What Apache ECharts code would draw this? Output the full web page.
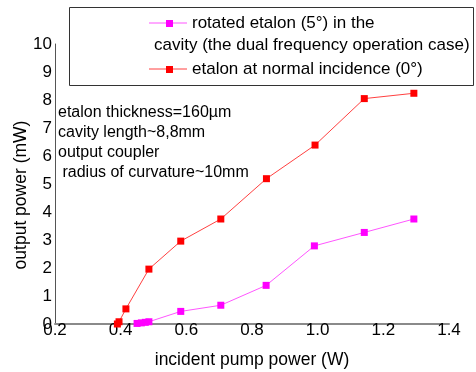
<!DOCTYPE html>
<html><head><meta charset="utf-8">
<script src="https://cdn.jsdelivr.net/npm/echarts@6/dist/echarts.min.js"></script>
<style>html,body{margin:0;padding:0;background:#fff}#c{width:476px;height:372px}</style>
</head><body><div id="c"></div>
<script>
const xTicks = [0.2, 0.4, 0.6, 0.8, 1.0, 1.2, 1.4];
const yTicks = [0,1,2,3,4,5,6,7,8,9,10];
const redX = [0.39, 0.395, 0.416, 0.486, 0.583, 0.705, 0.844, 0.992, 1.142, 1.293];
const redY = [0.0, 0.08, 0.54, 1.96, 2.96, 3.75, 5.19, 6.39, 8.05, 8.24];
const magX = [0.45, 0.463, 0.475, 0.486, 0.583, 0.705, 0.843, 0.99, 1.142, 1.293];
const magY = [0.02, 0.04, 0.06, 0.08, 0.45, 0.67, 1.38, 2.79, 3.27, 3.75];
const legendNames = ['rotated etalon (5°) in the', 'cavity (the dual frequency operation case)', 'etalon at normal incidence (0°)'];
const notes = ['etalon thickness=160µm', 'cavity length~8,8mm', 'output coupler', ' radius of curvature~10mm'];
const xName = 'incident pump power (W)';
const yName = 'output power (mW)';

const F = 'Liberation Sans, Arial, sans-serif';
const chart = echarts.init(document.getElementById('c'), null, {renderer:'canvas'});
const zip = (a,b)=>a.map((v,i)=>[v,b[i]]);
chart.setOption({
  animation:false,
  grid:{left:55, right:27, top:44, bottom:48, containLabel:false, outerBoundsMode:'none'},
  xAxis:{type:'value', min:xTicks[0], max:xTicks[xTicks.length-1], interval:0.2,
    name:xName, nameLocation:'middle', nameGap:27,
    nameTextStyle:{fontFamily:F, fontSize:17.5, color:'#000'},
    axisLine:{lineStyle:{color:'#8a8a8a', width:2}}, axisTick:{show:false}, splitLine:{show:false},
    axisLabel:{fontFamily:F, fontSize:17, color:'#000', margin:-2, formatter:v=>v.toFixed(1)}},
  yAxis:{type:'value', min:yTicks[0], max:yTicks[yTicks.length-1], interval:1,
    axisLine:{show:true, lineStyle:{color:'#555', width:1}}, axisTick:{show:false}, splitLine:{show:false},
    axisLabel:{fontFamily:F, fontSize:17, color:'#000', margin:3}},
  series:[
    {type:'line', data:zip(magX,magY), symbol:'rect', symbolSize:7, itemStyle:{color:'#ff00ff'},
      lineStyle:{color:'#ff55ff', width:1}},
    {type:'line', data:zip(redX,redY), symbol:'rect', symbolSize:7, itemStyle:{color:'#ff0000'},
      lineStyle:{color:'#ff4040', width:1}}
  ],
  graphic:[
    {type:'text', x:21, y:195, rotation:Math.PI/2, style:{text:yName, font:'17.5px '+F, fill:'#000', align:'center', verticalAlign:'middle'}},
    {type:'rect', shape:{x:69.5, y:7.5, width:404, height:78}, style:{fill:'#fff', stroke:'#333', lineWidth:1}},
    {type:'line', shape:{x1:149, y1:23, x2:187, y2:23}, style:{stroke:'#ff55ff', lineWidth:1}},
    {type:'rect', shape:{x:166, y:20, width:7, height:7}, style:{fill:'#ff00ff'}},
    {type:'line', shape:{x1:149, y1:69, x2:187, y2:69}, style:{stroke:'#ff4040', lineWidth:1}},
    {type:'rect', shape:{x:166, y:66, width:7, height:7}, style:{fill:'#ff0000'}},
    {type:'text', x:192, y:23, style:{text:legendNames[0], font:'17px '+F, fill:'#000', verticalAlign:'middle'}},
    {type:'text', x:154, y:45, style:{text:legendNames[1], font:'17px '+F, fill:'#000', verticalAlign:'middle'}},
    {type:'text', x:192, y:69, style:{text:legendNames[2], font:'17px '+F, fill:'#000', verticalAlign:'middle'}},
    ...notes.map((t,i)=>({type:'text', x:58, y:113+i*20, style:{text:t, font:'16px '+F, fill:'#000', verticalAlign:'middle'}}))
  ]
});
</script></body></html>
